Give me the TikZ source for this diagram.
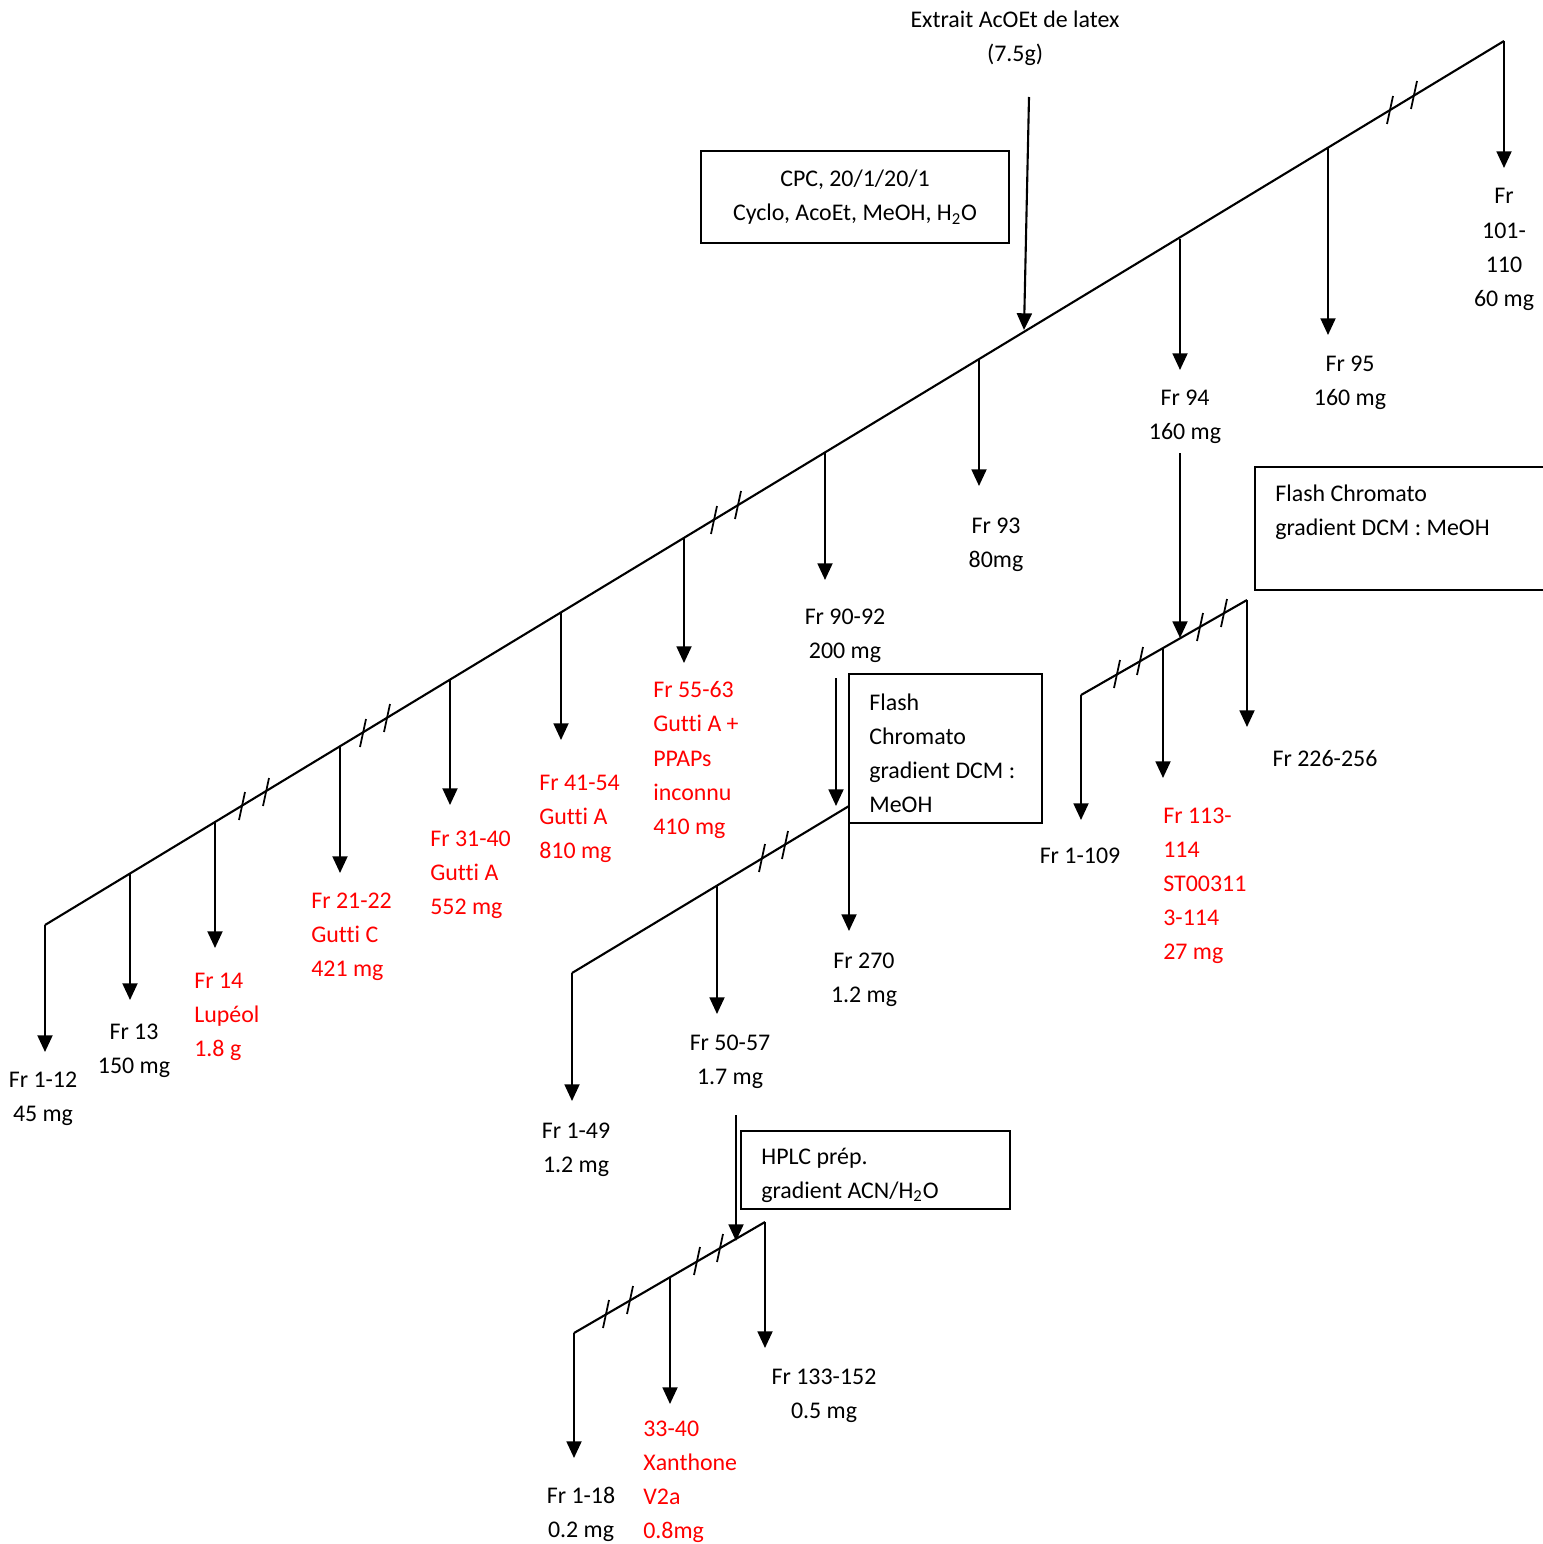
\documentclass[tikz,border=0pt]{standalone}
\usepackage{fontspec}
\setmainfont[Ligatures=NoCommon]{Carlito}
\usetikzlibrary{arrows.meta}

\tikzset{
  trunk/.style={line width=1.2pt},
  drop/.style={line width=1.2pt, -{Triangle[width=8.5pt,length=9.5pt]}},
  slash/.style={line width=1pt},
  stepbox/.style={draw, line width=0.9pt, inner sep=0pt},
  lab/.style={font=\fontsize{13.6}{19.4}\selectfont, inner sep=0pt, align=center, yshift=-0.05cm},
  redlab/.style={lab, text=red, align=left, anchor=west},
  boxlab/.style={lab, align=left, anchor=west}
}

\begin{document}
\begin{tikzpicture}[x=0.02cm, y=-0.02cm]
  \useasboundingbox (0,0) rectangle (1542,1544);

  % extrait de depart et colonne CPC
  \node[lab] (extrait) at (1015,36) {Extrait AcOEt de latex\\(7.5g)};
  \node[stepbox, minimum width=6.16cm, minimum height=1.84cm, lab, yshift=0.05cm] (cpc) at (855,197)
    {CPC, 20/1/20/1\\Cyclo, AcoEt, MeOH, H\textsubscript{2}O};
  \coordinate (inA) at (1029,97);
  \coordinate (inB) at (1024,330);
  \draw[drop] (inA) -- (inB);

  % ligne principale des fractions
  \coordinate (m0) at (45,925);
  \coordinate (m1) at (1504,41);
  \draw[trunk] (m0) -- (m1);
  \foreach \n/\x/\y/\e in {112/45/925/1052, 13/130/873/1000, 14/215/821/948,
      2122/340/746/873, 3140/450/679/805, 4154/561/612/740, 5563/684/537/663,
      9092/825/453/580, 93/979/359/486, 94/1180/239/370, 95/1328/148/335,
      101/1504/41/168}{
    \coordinate (s\n) at (\x,\y);
    \coordinate (e\n) at (\x,\e);
    \draw[drop] (s\n) -- (e\n);
  }
  \foreach \x/\y in {242/806, 266/792, 363/733, 387/718, 714/520, 738/505,
      1390/110, 1414/95}
    \draw[slash] (\x-3,\y+14) -- (\x+3,\y-14);

  % fractions de la CPC
  \begin{scope}
    \clip (0,1050) rectangle (76,1140);
    \node[lab] (l112) at (43,1096) {Fr 1-12\\45 mg};
  \end{scope}
  \node[lab] (l13) at (134,1048) {Fr 13\\150 mg};
  \node[redlab] (l14) at (194,1014) {Fr 14\\Lupéol\\1.8 g};
  \node[redlab] (l2122) at (311,934) {Fr 21-22\\Gutti C\\421 mg};
  \node[redlab] (l3140) at (430,872) {Fr 31-40\\Gutti A\\552 mg};
  \node[redlab] (l4154) at (539,816) {Fr 41-54\\Gutti A\\810 mg};
  \node[redlab] (l5563) at (653,757.5) {Fr 55-63\\Gutti A +\\PPAPs\\inconnu\\410 mg};
  \node[lab] (l9092) at (845,633) {Fr 90-92\\200 mg};
  \node[lab] (l93) at (996,542) {Fr 93\\80mg};
  \node[lab] (l94) at (1185,414) {Fr 94\\160 mg};
  \node[lab] (l95) at (1350,380) {Fr 95\\160 mg};
  \node[lab] (l101) at (1504,247) {Fr\\101-\\110\\60 mg};

  % Fr 94 : flash chromato
  \node[stepbox, anchor=north west, minimum width=6.6cm, minimum height=2.46cm] (fc1) at (1254,466) {};
  \node[boxlab] (fc1t) at (1275,510) {Flash Chromato\\gradient DCM : MeOH};
  \coordinate (inC) at (1180,453);
  \coordinate (inD) at (1180,638);
  \draw[drop] (inC) -- (inD);
  \coordinate (f0) at (1081,695);
  \coordinate (f1) at (1247,600);
  \draw[trunk] (f0) -- (f1);
  \foreach \n/\x/\y/\e in {1109/1081/695/820, 113/1163/648/778, 226/1247/600/727}{
    \coordinate (s\n) at (\x,\y);
    \coordinate (e\n) at (\x,\e);
    \draw[drop] (s\n) -- (e\n);
  }
  \foreach \x/\y in {1117/674, 1140/661, 1200/627, 1224/613}
    \draw[slash] (\x-3,\y+14) -- (\x+3,\y-14);
  \node[lab] (l1109) at (1080,853) {Fr 1-109};
  \node[redlab] (l113) at (1163,883.5) {Fr 113-\\114\\ST00311\\3-114\\27 mg};
  \node[lab] (l226) at (1325,756) {Fr 226-256};

  % Fr 90-92 : flash chromato
  \node[stepbox, anchor=north west, minimum width=3.86cm, minimum height=2.98cm] (fc2) at (848,673) {};
  \node[boxlab] (fc2t) at (869,750.5) {Flash\\Chromato\\gradient DCM :\\MeOH};
  \coordinate (inE) at (836,678);
  \coordinate (inF) at (836,806);
  \draw[drop] (inE) -- (inF);
  \coordinate (g0) at (572,973);
  \coordinate (g1) at (849,806);
  \draw[trunk] (g0) -- (g1);
  \foreach \n/\x/\y/\e in {149/572/973/1101, 5057/717/886/1014, 270/849/806/931}{
    \coordinate (s\n) at (\x,\y);
    \coordinate (e\n) at (\x,\e);
    \draw[drop] (s\n) -- (e\n);
  }
  \foreach \x/\y in {762/858, 785/845}
    \draw[slash] (\x-3,\y+14) -- (\x+3,\y-14);
  \node[lab] (l149) at (576,1147) {Fr 1-49\\1.2 mg};
  \node[lab] (l5057) at (730,1059.5) {Fr 50-57\\1.7 mg};
  \node[lab] (l270) at (864,977) {Fr 270\\1.2 mg};

  % Fr 50-57 : HPLC prep
  \node[stepbox, anchor=north west, minimum width=5.38cm, minimum height=1.56cm] (hplc) at (740,1130) {};
  \begin{scope}
    \clip (741,1131) rectangle (1008,1207);
    \node[boxlab] (hplct) at (761,1172.5) {HPLC prép.\\gradient ACN/H\textsubscript{2}O};
  \end{scope}
  \coordinate (inG) at (736,1115);
  \coordinate (inH) at (736,1241);
  \draw[drop] (inG) -- (inH);
  \coordinate (h0) at (574,1333);
  \coordinate (h1) at (765,1222);
  \draw[trunk] (h0) -- (h1);
  \foreach \n/\x/\y/\e in {118/574/1333/1458, 3340/670/1277/1404, 133/765/1222/1348}{
    \coordinate (s\n) at (\x,\y);
    \coordinate (e\n) at (\x,\e);
    \draw[drop] (s\n) -- (e\n);
  }
  \foreach \x/\y in {606/1314, 630/1300, 697/1261, 720/1248}
    \draw[slash] (\x-3,\y+14) -- (\x+3,\y-14);
  \node[lab] (l118) at (581,1512) {Fr 1-18\\0.2 mg};
  \node[redlab] (l3340) at (643,1479.5) {33-40\\Xanthone\\V2a\\0.8mg};
  \node[lab] (l133) at (824,1393.5) {Fr 133-152\\0.5 mg};
\end{tikzpicture}
\end{document}
